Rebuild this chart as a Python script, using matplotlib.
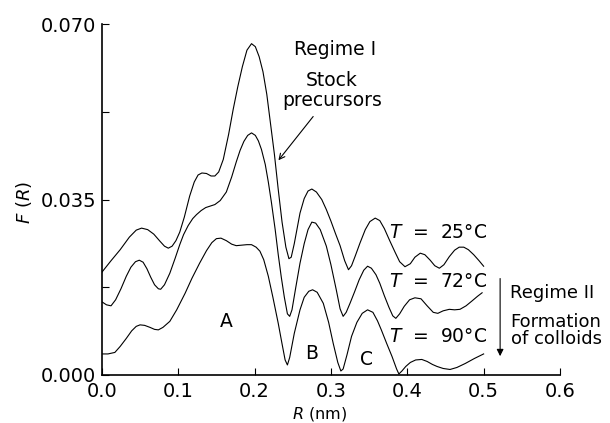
import matplotlib.pyplot as plt

# values (R in nm, F(R))
r_25 = [0.000, 0.012, 0.024, 0.036, 0.045, 0.052, 0.060, 0.068, 0.076, 0.082,
        0.087, 0.092, 0.097, 0.102, 0.108, 0.115, 0.121, 0.126, 0.131, 0.137,
        0.143, 0.148, 0.153, 0.159, 0.166, 0.172, 0.178, 0.184, 0.190, 0.196,
        0.201, 0.206, 0.211, 0.216, 0.221, 0.226, 0.231, 0.236, 0.241, 0.245,
        0.248, 0.252, 0.2595, 0.265, 0.270, 0.275, 0.281, 0.288, 0.294, 0.300,
        0.306, 0.312, 0.318, 0.323, 0.327, 0.332, 0.338, 0.345, 0.351, 0.358,
        0.364, 0.370, 0.377, 0.384, 0.390, 0.397, 0.404, 0.410, 0.417, 0.423,
        0.430, 0.436, 0.442, 0.448, 0.455, 0.462, 0.468, 0.474, 0.480, 0.487,
        0.494, 0.500]
f_25 = [0.0205, 0.0228, 0.0250, 0.0275, 0.0289, 0.0293, 0.0290, 0.0281, 0.0267, 0.0257,
        0.0253, 0.0257, 0.0268, 0.0285, 0.0315, 0.0357, 0.0385, 0.0399, 0.0403, 0.0402,
        0.0397, 0.0397, 0.0405, 0.0430, 0.0480, 0.0530, 0.0575, 0.0615, 0.0648, 0.0661,
        0.0655, 0.0635, 0.0605, 0.0560, 0.0500, 0.0440, 0.0370, 0.0305, 0.0255, 0.0232,
        0.0235, 0.0262, 0.0323, 0.0352, 0.0367, 0.0371, 0.0365, 0.0350, 0.0330, 0.0307,
        0.0282, 0.0258, 0.0228, 0.0210, 0.0218, 0.0238, 0.0263, 0.0290, 0.0306, 0.0313,
        0.0308, 0.0292, 0.0268, 0.0245, 0.0226, 0.0216, 0.0222, 0.0235, 0.0243, 0.0240,
        0.0229, 0.0218, 0.0213, 0.0220, 0.0236, 0.0249, 0.0255, 0.0255, 0.0250, 0.0240,
        0.0228, 0.0217]

r_72 = [0.000, 0.006, 0.012, 0.018, 0.025, 0.032, 0.038, 0.044, 0.049, 0.054,
        0.059, 0.064, 0.069, 0.074, 0.077, 0.082, 0.089, 0.096, 0.102, 0.107,
        0.113, 0.119, 0.124, 0.130, 0.136, 0.142, 0.148, 0.155, 0.163, 0.170,
        0.176, 0.181, 0.186, 0.191, 0.196, 0.201, 0.205, 0.209, 0.214, 0.218,
        0.222, 0.227, 0.231, 0.235, 0.239, 0.243, 0.246, 0.249, 0.254, 0.2595,
        0.265, 0.270, 0.275, 0.280, 0.286, 0.294, 0.300, 0.307, 0.312, 0.316,
        0.320, 0.325, 0.331, 0.337, 0.343, 0.348, 0.353, 0.359, 0.364, 0.370,
        0.376, 0.381, 0.385, 0.390, 0.396, 0.403, 0.410, 0.418, 0.426, 0.434,
        0.440, 0.447, 0.455, 0.462, 0.469, 0.477, 0.485, 0.492, 0.498]
f_72 = [0.0146, 0.0140, 0.0138, 0.0150, 0.0172, 0.0197, 0.0215, 0.0226, 0.0229, 0.0225,
        0.0212, 0.0195, 0.0180, 0.0172, 0.0171, 0.0180, 0.0203, 0.0233, 0.0260, 0.0280,
        0.0298, 0.0312, 0.0320, 0.0328, 0.0334, 0.0337, 0.0340, 0.0348, 0.0365, 0.0395,
        0.0425, 0.0448, 0.0466, 0.0478, 0.0483, 0.0478, 0.0467, 0.0450, 0.0420, 0.0385,
        0.0345, 0.0290, 0.0240, 0.0195, 0.0155, 0.0122, 0.0117, 0.0130, 0.0175, 0.0223,
        0.0262, 0.0290, 0.0305, 0.0303, 0.0290, 0.0257, 0.0220, 0.0170, 0.0132, 0.0117,
        0.0125, 0.0143, 0.0166, 0.0190, 0.0209, 0.0217, 0.0213, 0.0200, 0.0183, 0.0158,
        0.0135, 0.0118, 0.0113, 0.0122, 0.0137, 0.0150, 0.0154, 0.0152, 0.0138, 0.0125,
        0.0123, 0.0128, 0.0131, 0.0130, 0.0131, 0.0138, 0.0148, 0.0157, 0.0164]

r_90 = [0.000, 0.008, 0.017, 0.024, 0.032, 0.039, 0.045, 0.050, 0.056, 0.063,
        0.069, 0.074, 0.080, 0.089, 0.098, 0.109, 0.118, 0.128, 0.137, 0.144,
        0.150, 0.156, 0.163, 0.170, 0.176, 0.183, 0.190, 0.196, 0.202, 0.207,
        0.212, 0.218, 0.224, 0.231, 0.236, 0.240, 0.243, 0.246, 0.252, 0.2595,
        0.265, 0.271, 0.276, 0.282, 0.290, 0.297, 0.303, 0.309, 0.313, 0.316,
        0.321, 0.327, 0.334, 0.341, 0.348, 0.355, 0.361, 0.366, 0.373, 0.380,
        0.386, 0.389, 0.393, 0.398, 0.404, 0.411, 0.419, 0.426, 0.433, 0.439,
        0.447, 0.456, 0.465, 0.476, 0.488, 0.500]
f_90 = [0.0042, 0.0042, 0.0045, 0.0057, 0.0073, 0.0088, 0.0097, 0.0100, 0.0099, 0.0095,
        0.0091, 0.0090, 0.0095, 0.0107, 0.0130, 0.0163, 0.0193, 0.0223, 0.0248, 0.0264,
        0.0272, 0.0273, 0.0268, 0.0261, 0.0258, 0.0259, 0.0260, 0.0260, 0.0255, 0.0247,
        0.0230, 0.0197, 0.0155, 0.0103, 0.0062, 0.0030, 0.0020, 0.0035, 0.0083, 0.0130,
        0.0155, 0.0167, 0.0170, 0.0165, 0.0143, 0.0105, 0.0063, 0.0025, 0.0008, 0.0012,
        0.0040, 0.0077, 0.0105, 0.0123, 0.0130, 0.0125, 0.0108, 0.0090, 0.0063, 0.0037,
        0.0012, 0.0002, 0.0008, 0.0017, 0.0025, 0.0030, 0.0031, 0.0027, 0.0021, 0.0017,
        0.0013, 0.0011, 0.0015, 0.0023, 0.0033, 0.0042]

curve_labels = ['$T$  =  25°C', '$T$  =  72°C', '$T$  =  90°C']
label_y = [0.0284, 0.0186, 0.0076]


def main():
    plt.rcParams['font.family'] = 'DejaVu Sans'
    plt.rcParams['mathtext.fontset'] = 'dejavusans'
    fig = plt.figure(figsize=(6.1, 4.23), dpi=100)
    ax = fig.add_axes([0.167, 0.1135, 0.751, 0.8295])

    for r, f in [(r_25, f_25), (r_72, f_72), (r_90, f_90)]:
        ax.plot(r, f, color='black', lw=0.8)

    ax.set_xlim(0, 0.6)
    ax.set_ylim(0, 0.070)
    ax.spines['top'].set_visible(False)
    ax.spines['right'].set_visible(False)
    ax.spines['left'].set_linewidth(1.2)
    ax.spines['bottom'].set_linewidth(1.2)

    ax.set_xticks([0, 0.1, 0.2, 0.3, 0.4, 0.5, 0.6])
    ax.set_xticklabels(['0.0', '0.1', '0.2', '0.3', '0.4', '0.5', '0.6'])
    ax.set_yticks([0, 0.035, 0.070])
    ax.set_yticklabels(['0.000', '0.035', '0.070'])
    ax.set_yticks([0.0175, 0.0525], minor=True)
    ax.tick_params(which='both', direction='in', length=5, width=0.8, labelsize=14)
    ax.tick_params(axis='x', pad=5)
    ax.tick_params(axis='y', pad=4)

    # axis titles placed by figure pixels as in the reference
    fig.text(320 / 610, 1 - 414 / 423, '$R$ (nm)', fontsize=11.5,
             ha='center', va='center')
    fig.text(24 / 610, 1 - 202 / 423, '$F$ ($R$)', fontsize=13,
             ha='center', va='center', rotation=90)

    # annotations
    ax.text(0.305, 0.065, 'Regime I', fontsize=13.5, ha='center', va='center')
    ax.text(0.301, 0.0588, 'Stock', fontsize=13.5, ha='center', va='center')
    ax.text(0.301, 0.0548, 'precursors', fontsize=13.5, ha='center', va='center')
    ax.annotate('', xy=(0.229, 0.0424), xytext=(0.279, 0.052),
                arrowprops=dict(arrowstyle='->', color='black', lw=0.8))

    for lab, y in zip(curve_labels, label_y):
        ax.text(0.376, y, lab, fontsize=13.5, ha='left', va='center')

    ax.annotate('', xy=(0.5216, 0.0032), xytext=(0.5216, 0.0198),
                arrowprops=dict(arrowstyle='-|>', color='black', lw=0.8,
                                mutation_scale=10))
    ax.text(0.535, 0.0164, 'Regime II', fontsize=13, ha='left', va='center')
    ax.text(0.595, 0.0089, 'Formation\nof colloids', fontsize=13, ha='center',
            va='center', multialignment='center', linespacing=0.95)

    ax.text(0.1625, 0.0106, 'A', fontsize=13.5, ha='center', va='center')
    ax.text(0.275, 0.0043, 'B', fontsize=13.5, ha='center', va='center')
    ax.text(0.347, 0.0031, 'C', fontsize=13.5, ha='center', va='center')

    fig.savefig('out.png', dpi=100)


if __name__ == '__main__':
    main()
